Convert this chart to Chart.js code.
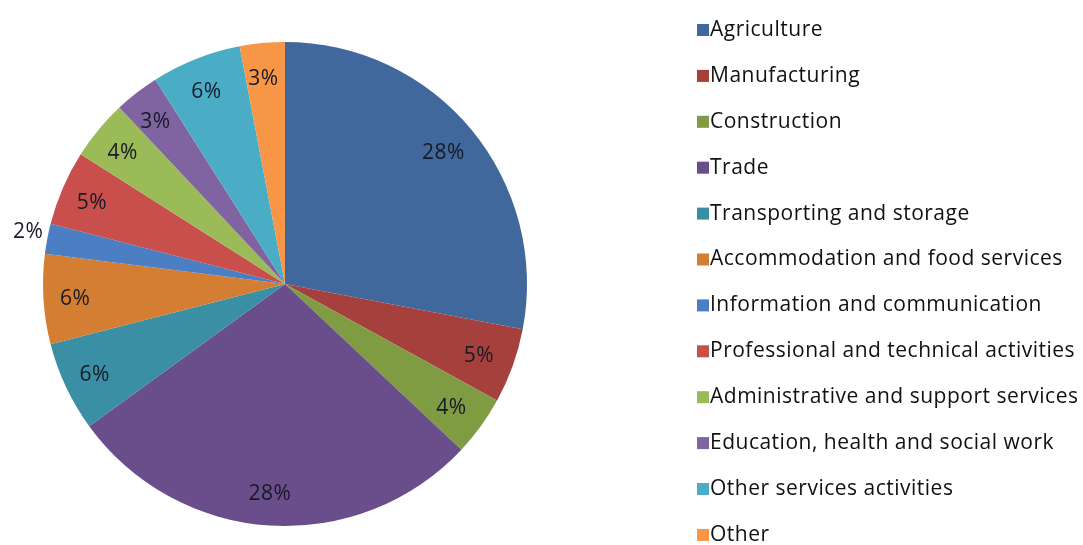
<!DOCTYPE html>
<html>
<head>
<meta charset="utf-8">
<script src="https://cdn.jsdelivr.net/npm/chart.js@4"></script>
<style>
    html, body { margin:0; padding:0; background:#fff; }
    #wrap { width:1083px; height:545px; }
</style>
</head>
<body>
<div id="wrap"><canvas id="chartSectores"></canvas></div>
<script>
// Datos del gráfico
const sectores = [
    'Agriculture', 'Manufacturing', 'Construction', 'Trade',
    'Transporting and storage', 'Accommodation and food services',
    'Information and communication', 'Professional and technical activities',
    'Administrative and support services', 'Education, health and social work',
    'Other services activities', 'Other'
];
const porcentajes = [28, 5, 4, 28, 6, 6, 2, 5, 4, 3, 6, 3];
const colores = [
    '#41689c', '#a5403d', '#7f9c43', '#6a4e8c', '#3b8fa5', '#d47e34',
    '#4b7ec2', '#c94f4c', '#9bbb59', '#8064a2', '#4bacc6', '#f79646'
];

const FUENTE = '"Open Sans", "Liberation Sans", sans-serif';

// Etiquetas de porcentaje sobre cada sector
const etiquetasPie = {
    id: 'etiquetasPie',
    afterDatasetsDraw(chart) {
        const ctx = chart.ctx;
        const meta = chart.getDatasetMeta(0);
        const total = porcentajes.reduce((a, b) => a + b, 0);
        ctx.save();
        ctx.font = '21px ' + FUENTE;
        ctx.letterSpacing = '0.5px';
        ctx.fillStyle = '#161a24';
        ctx.textBaseline = 'middle';
        meta.data.forEach((arc, i) => {
            const p = arc.getProps(['x', 'y', 'startAngle', 'endAngle', 'outerRadius'], true);
            const mid = (p.startAngle + p.endAngle) / 2;
            const pct = Math.round(porcentajes[i] / total * 100);
            const texto = pct + '%';
            if (pct < 3) {
                // sector angosto: etiqueta fuera del pastel
                const r = p.outerRadius + 4;
                ctx.textAlign = Math.cos(mid) < 0 ? 'right' : 'left';
                ctx.fillText(texto, p.x + Math.cos(mid) * r, p.y + Math.sin(mid) * r - 6);
            } else {
                const r = p.outerRadius * 0.86;
                ctx.textAlign = 'center';
                ctx.fillText(texto, p.x + Math.cos(mid) * r - 2, p.y + Math.sin(mid) * r + 2);
            }
        });
        ctx.restore();
    }
};

// Leyenda lateral dibujada en el canvas
const leyendaLateral = {
    id: 'leyendaLateral',
    afterDraw(chart, args, opts) {
        const ctx = chart.ctx;
        const ds = chart.data.datasets[0];
        ctx.save();
        ctx.font = '21px ' + FUENTE;
        ctx.letterSpacing = '0.5px';
        ctx.textBaseline = 'middle';
        ctx.textAlign = 'left';
        chart.data.labels.forEach((lbl, i) => {
            const y = opts.top + i * opts.step;
            ctx.fillStyle = ds.backgroundColor[i];
            ctx.fillRect(opts.left, y - 6, 12, 12);
            ctx.fillStyle = '#111';
            ctx.fillText(lbl, opts.left + 13, y);
        });
        ctx.restore();
    }
};

new Chart(document.getElementById('chartSectores'), {
    type: 'pie',
    data: {
        labels: sectores,
        datasets: [{
            data: porcentajes,
            backgroundColor: colores,
            borderWidth: 0
        }]
    },
    options: {
        responsive: true,
        maintainAspectRatio: false,
        animation: false,
        layout: {
            padding: { left: 43, right: 556, top: 42, bottom: 19 }
        },
        plugins: {
            legend: { display: false },
            tooltip: { enabled: false },
            leyendaLateral: { left: 697, top: 30, step: 45.9 }
        }
    },
    plugins: [etiquetasPie, leyendaLateral]
});
</script>
</body>
</html>
